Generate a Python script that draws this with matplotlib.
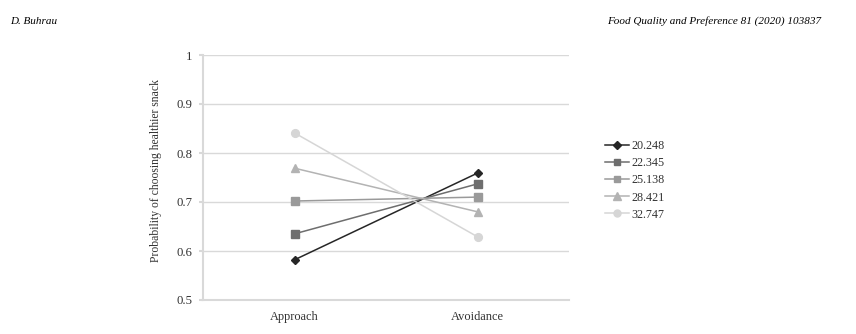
import matplotlib
matplotlib.use("Agg")
import matplotlib.pyplot as plt

categories = ["Approach", "Avoidance"]
series_labels = ["20.248", "22.345", "25.138", "28.421", "32.747"]
approach_vals = [0.582, 0.635, 0.702, 0.769, 0.841]
avoidance_vals = [0.759, 0.737, 0.710, 0.680, 0.629]

colors = ["#262626", "#6e6e6e", "#9a9a9a", "#b3b3b3", "#d6d6d6"]
markers = ["D", "s", "s", "^", "o"]
msizes = [4.0, 5.2, 5.2, 5.8, 5.6]

plt.rcParams["font.family"] = ["Liberation Serif", "DejaVu Serif"]

fig = plt.figure(figsize=(8.56, 3.34), dpi=100)
ax = fig.add_axes([203 / 856, 1 - 300 / 334, (569 - 203) / 856, (300 - 55) / 334])

x = list(range(len(categories)))
for lab, a, b, c, m, ms in zip(series_labels, approach_vals, avoidance_vals, colors, markers, msizes):
    ax.plot(x, [a, b], color=c, marker=m, markersize=ms, linewidth=1.1,
            markerfacecolor=c, markeredgecolor=c, label=lab)

ax.set_xlim(-0.5, 1.5)
ax.set_ylim(0.5, 1.0)
ax.set_yticks([0.5, 0.6, 0.7, 0.8, 0.9, 1.0])
ax.set_yticklabels(["0.5", "0.6", "0.7", "0.8", "0.9", "1"])
ax.set_xticks(x)
ax.set_xticklabels(categories)
ax.yaxis.grid(True, color="#d9d9d9", linewidth=1.0)
ax.set_axisbelow(True)
for s in ["top", "right"]:
    ax.spines[s].set_visible(False)
for s in ["left", "bottom"]:
    ax.spines[s].set_color("#d9d9d9")
    ax.spines[s].set_linewidth(1.5)
ax.tick_params(axis="y", length=3, color="#d9d9d9", width=1.5, labelsize=9.2, pad=4.5, labelcolor="#333333")
ax.tick_params(axis="x", length=0, labelsize=8.9, pad=8, labelcolor="#333333")
ax.set_ylabel("Probability of choosing healthier snack", fontsize=8.4, color="#333333")
ax.yaxis.set_label_coords(-0.112, 0.527)

ax.legend(loc="center left", bbox_to_anchor=(1.085, 0.488), frameon=False, fontsize=8.7,
          handlelength=2.0, handletextpad=0.2, labelspacing=0.42, borderaxespad=0,
          labelcolor="#333333", markerscale=0.9)

fig.text(10 / 856, 1 - 21 / 334, "D. Buhrau", fontsize=8, style="italic", va="center", ha="left")
fig.text(821 / 856, 1 - 21 / 334, "Food Quality and Preference 81 (2020) 103837",
         fontsize=8, style="italic", va="center", ha="right")

fig.savefig("out.png", dpi=100)
